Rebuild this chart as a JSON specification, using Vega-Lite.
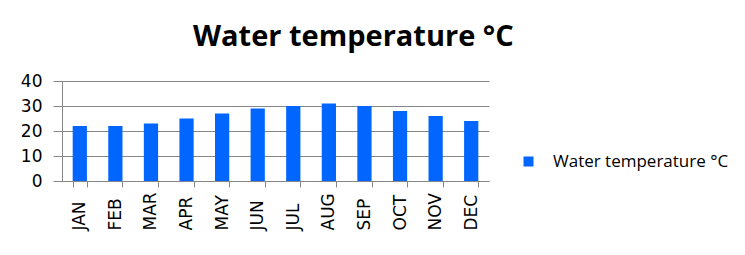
{
  "$schema": "https://vega.github.io/schema/vega-lite/v6.json",
  "width": 427,
  "height": 100,
  "autosize": "none",
  "padding": {"left": 62, "top": 81, "right": 256, "bottom": 74},
  "background": "white",
  "title": {
    "text": "Water temperature °C",
    "font": "Open Sans",
    "fontSize": 29,
    "fontWeight": "bold",
    "color": "#000000",
    "anchor": "start",
    "frame": "group",
    "dx": 131,
    "baseline": "alphabetic",
    "offset": -3
  },
  "data": {
    "values": [
      {"month": "JAN", "temp": 22, "series": "Water temperature °C"},
      {"month": "FEB", "temp": 22, "series": "Water temperature °C"},
      {"month": "MAR", "temp": 23, "series": "Water temperature °C"},
      {"month": "APR", "temp": 25, "series": "Water temperature °C"},
      {"month": "MAY", "temp": 27, "series": "Water temperature °C"},
      {"month": "JUN", "temp": 29, "series": "Water temperature °C"},
      {"month": "JUL", "temp": 30, "series": "Water temperature °C"},
      {"month": "AUG", "temp": 31, "series": "Water temperature °C"},
      {"month": "SEP", "temp": 30, "series": "Water temperature °C"},
      {"month": "OCT", "temp": 28, "series": "Water temperature °C"},
      {"month": "NOV", "temp": 26, "series": "Water temperature °C"},
      {"month": "DEC", "temp": 24, "series": "Water temperature °C"}
    ]
  },
  "mark": {"type": "bar"},
  "encoding": {
    "x": {
      "field": "month",
      "type": "nominal",
      "sort": null,
      "scale": {"paddingInner": 0.6, "paddingOuter": 0.3},
      "axis": {
        "title": null,
        "labelAngle": -90,
        "labelAlign": "left",
        "labelBaseline": "middle",
        "labelFont": "DejaVu Sans",
        "labelFontSize": 17,
        "labelColor": "#000000",
        "labelPadding": 43,
        "labelBound": false,
        "labelOverlap": false,
        "tickSize": 6,
        "tickColor": "#868686",
        "domainColor": "#868686",
        "bandPosition": 0,
        "tickBand": "extent",
        "grid": false
      }
    },
    "y": {
      "field": "temp",
      "type": "quantitative",
      "scale": {"domain": [0, 40], "nice": false},
      "axis": {
        "title": null,
        "values": [0, 10, 20, 30, 40],
        "labelFont": "DejaVu Sans",
        "labelFontSize": 17,
        "labelColor": "#000000",
        "labelPadding": 11,
        "tickSize": 9,
        "tickColor": "#868686",
        "domainColor": "#868686",
        "grid": true,
        "gridColor": "#868686",
        "gridOpacity": 1
      }
    },
    "color": {
      "field": "series",
      "type": "nominal",
      "scale": {"range": ["#0066FF"]},
      "legend": {
        "title": null,
        "orient": "none",
        "legendX": 458,
        "legendY": 72,
        "symbolType": "square",
        "symbolSize": 100,
        "symbolOpacity": 1,
        "labelFont": "Open Sans",
        "labelFontSize": 17,
        "labelLimit": 400,
        "labelColor": "#000000",
        "labelOffset": 16
      }
    }
  },
  "config": {"view": {"stroke": null}}
}
